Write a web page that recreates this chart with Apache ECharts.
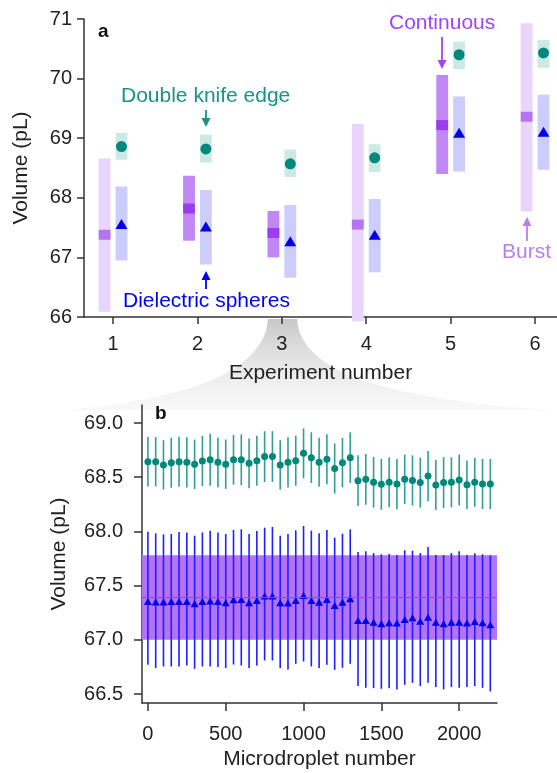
<!DOCTYPE html>
<html>
<head>
<meta charset="utf-8">
<style>
  html, body { margin: 0; padding: 0; background: #fff; }
  #main { width: 557px; height: 773px; }
</style>
<script src="https://cdn.jsdelivr.net/npm/echarts@6/dist/echarts.min.js"></script>
</head>
<body>
<div id="main"></div>
<script>
// ---- panel a: per experiment ----
var experiments = [1, 2, 3, 4, 5, 6];
var dropMode = ['burst', 'continuous', 'continuous', 'burst', 'continuous', 'burst'];
var dropLo  = [66.09, 67.28, 67.00, 65.93, 68.40, 67.77];
var dropHi  = [68.66, 68.37, 67.78, 69.24, 70.06, 70.93];
var dropMed = [67.38, 67.82, 67.41, 67.55, 69.22, 69.36];
var knifeLo   = [68.64, 68.59, 68.35, 68.43, 70.16, 70.18];
var knifeHi   = [69.09, 69.06, 68.81, 68.90, 70.62, 70.65];
var knifeMean = [68.86, 68.82, 68.57, 68.67, 70.40, 70.43];
var sphereLo   = [66.95, 66.88, 66.66, 66.75, 68.44, 68.47];
var sphereHi   = [68.19, 68.13, 67.88, 67.98, 69.70, 69.73];
var sphereMean = [67.56, 67.52, 67.27, 67.38, 69.09, 69.11];

// ---- panel b: experiment 3, every 50th microdroplet ----
var dropletNo = [];
for (var n = 0; n <= 2200; n += 50) dropletNo.push(n);
var knifeB = [68.643, 68.643, 68.613, 68.634, 68.643, 68.637, 68.619, 68.650, 68.660, 68.637,
              68.620, 68.660, 68.661, 68.628, 68.652, 68.690, 68.690, 68.613, 68.637, 68.652,
              68.720, 68.680, 68.637, 68.665, 68.580, 68.634, 68.680, 68.468, 68.480, 68.453,
              68.434, 68.453, 68.437, 68.480, 68.470, 68.450, 68.510, 68.428, 68.450, 68.453,
              68.474, 68.430, 68.453, 68.437, 68.437];
var knifeSd = [0.228, 0.228, 0.228, 0.231, 0.231, 0.231, 0.228, 0.231, 0.240, 0.229,
               0.228, 0.229, 0.234, 0.229, 0.231, 0.234, 0.234, 0.228, 0.231, 0.231,
               0.231, 0.234, 0.226, 0.231, 0.231, 0.228, 0.234, 0.234, 0.234, 0.234,
               0.235, 0.231, 0.232, 0.228, 0.231, 0.231, 0.231, 0.231, 0.235, 0.231,
               0.235, 0.224, 0.226, 0.231, 0.231];
var sphereB = [67.353, 67.348, 67.348, 67.353, 67.353, 67.353, 67.332, 67.353, 67.357, 67.353,
               67.341, 67.369, 67.372, 67.341, 67.363, 67.403, 67.403, 67.341, 67.339, 67.363,
               67.409, 67.363, 67.347, 67.372, 67.317, 67.347, 67.378, 67.178, 67.178, 67.163,
               67.148, 67.157, 67.154, 67.187, 67.203, 67.172, 67.209, 67.163, 67.148, 67.163,
               67.163, 67.154, 67.169, 67.157, 67.138];
var sphereBHi = [67.997, 67.982, 67.973, 67.976, 67.994, 67.990, 67.960, 67.990, 68.007, 67.990,
                 67.976, 68.013, 68.019, 67.976, 68.004, 68.034, 68.041, 67.960, 67.976, 68.010,
                 68.050, 68.007, 67.982, 68.013, 67.942, 67.979, 68.019, 67.810, 67.816, 67.801,
                 67.789, 67.792, 67.782, 67.826, 67.822, 67.801, 67.856, 67.782, 67.782, 67.801,
                 67.816, 67.782, 67.798, 67.789, 67.779];
var sphereBLo = [66.769, 66.739, 66.754, 66.754, 66.754, 66.763, 66.732, 66.754, 66.754, 66.748,
                 66.739, 66.772, 66.763, 66.739, 66.763, 66.809, 66.809, 66.739, 66.726, 66.779,
                 66.800, 66.754, 66.739, 66.769, 66.723, 66.742, 66.779, 66.573, 66.557, 66.554,
                 66.548, 66.554, 66.542, 66.585, 66.603, 66.573, 66.603, 66.564, 66.542, 66.564,
                 66.557, 66.564, 66.573, 66.557, 66.523];
var contBand = [67.00, 67.78];
var contMedian = 67.39;

var FONT = 'Liberation Sans, Arial, sans-serif';
var AXIS_COLOR = '#333';

var chart = echarts.init(document.getElementById('main'));

function axisStyle(margin, tickLen) {
    return {
        axisLine: { show: true, onZero: false, lineStyle: { color: AXIS_COLOR, width: 1.5 } },
        axisTick: { show: true, length: tickLen, lineStyle: { color: AXIS_COLOR, width: 1.5 } },
        axisLabel: { color: '#222', fontSize: 20, fontFamily: FONT, margin: margin },
        splitLine: { show: false },
        nameTextStyle: { color: '#222', fontSize: 21, fontFamily: FONT }
    };
}

// drop bar + median square, panel a
function dropItem(params, api) {
    var x = api.value(0) - 0.1;
    var lo = api.coord([x, api.value(1)]);
    var hi = api.coord([x, api.value(2)]);
    var med = api.coord([x, api.value(3)]);
    var w = api.size([0.14, 0])[0];
    var cont = dropMode[params.dataIndex] === 'continuous';
    return {
        type: 'group',
        children: [
            { type: 'rect', shape: { x: lo[0] - w / 2, y: hi[1], width: w, height: lo[1] - hi[1] },
              style: { fill: cont ? '#c088f4' : '#e8d5fb' } },
            { type: 'rect', shape: { x: lo[0] - w / 2, y: med[1] - 5, width: w, height: 10 },
              style: { fill: cont ? '#9b3cef' : '#b574f3' } }
        ]
    };
}

function bandItem(color) {
    return function (params, api) {
        var x = api.value(0) + 0.1;
        var lo = api.coord([x, api.value(1)]);
        var hi = api.coord([x, api.value(2)]);
        var w = api.size([0.14, 0])[0];
        return { type: 'rect', shape: { x: lo[0] - w / 2, y: hi[1], width: w, height: lo[1] - hi[1] },
                 style: { fill: color } };
    };
}

function errItem(color) {
    return function (params, api) {
        var lo = api.coord([api.value(0), api.value(1)]);
        var hi = api.coord([api.value(0), api.value(2)]);
        return { type: 'line', shape: { x1: lo[0], y1: lo[1], x2: hi[0], y2: hi[1] },
                 style: { stroke: color, lineWidth: 1.6 } };
    };
}

// wedge from panel a (experiment 3) down to panel b
function bez(p0, p1, p2, p3, t) {
    var u = 1 - t;
    return [u*u*u*p0[0] + 3*u*u*t*p1[0] + 3*u*t*t*p2[0] + t*t*t*p3[0],
            u*u*u*p0[1] + 3*u*u*t*p1[1] + 3*u*t*t*p2[1] + t*t*t*p3[1]];
}
var wedge = [];
for (var i = 0; i <= 20; i++) wedge.push(bez([297, 319], [300, 370], [380, 400], [557, 410], i / 20));
for (var j = 20; j >= 0; j--) wedge.push(bez([268, 319], [265, 370], [190, 400], [64, 410], j / 20));

function arrow(x, y1, y2, color) {
    // y2 is the tip
    var dir = y2 > y1 ? 1 : -1;
    return [
        { type: 'line', shape: { x1: x, y1: y1, x2: x, y2: y2 - dir * 6 }, style: { stroke: color, lineWidth: 1.8 }, z: 20 },
        { type: 'polygon', shape: { points: [[x - 4.5, y2 - dir * 9], [x + 4.5, y2 - dir * 9], [x, y2]] }, style: { fill: color }, z: 20 }
    ];
}

function label(text, x, y, color, size, bold) {
    return { type: 'text', x: x, y: y, z: 20,
             style: { text: text, fill: color, fontSize: size, fontFamily: FONT, fontWeight: bold ? 'bold' : 'normal',
                      textVerticalAlign: 'middle' } };
}

var graphics = [
    { type: 'polygon', z: -1, shape: { points: wedge },
      style: { fill: new echarts.graphic.LinearGradient(0, 0, 0, 1, [
          { offset: 0, color: 'rgba(190,190,190,0.85)' },
          { offset: 1, color: 'rgba(238,238,238,0.35)' }]) } },
    label('a', 98, 32, '#111', 19, true),
    label('b', 155, 414, '#111', 19, true),
    label('Double knife edge', 121, 96, '#169488', 21),
    label('Dielectric spheres', 123, 301, '#0000ff', 21),
    label('Continuous', 389, 23, '#a443f0', 21),
    label('Burst', 502, 252, '#b97ef5', 21)
].concat(arrow(206, 110, 127, '#169488'))
 .concat(arrow(206, 289, 271, '#0000ff'))
 .concat(arrow(442, 37, 69, '#a443f0'))
 .concat(arrow(527, 241, 217, '#b97ef5'));

var option = {
    animation: false,
    backgroundColor: '#fff',
    graphic: graphics,
    grid: [
        { left: 84, top: 19, width: 473, height: 298 },
        { left: 142, top: 405, width: 355, height: 298 }
    ],
    xAxis: [
        Object.assign(axisStyle(17, 7), {
            gridIndex: 0, type: 'value', min: 0.656, max: 6.26,
            name: 'Experiment number', nameLocation: 'middle', nameGap: 46
        }),
        Object.assign(axisStyle(21, 8), {
            gridIndex: 1, type: 'value', min: -38, max: 2243,
            name: 'Microdroplet number', nameLocation: 'middle', nameGap: 46
        })
    ],
    yAxis: [
        Object.assign(axisStyle(12, 7), {
            gridIndex: 0, type: 'value', min: 66, max: 71, interval: 1,
            name: 'Volume (pL)', nameLocation: 'middle', nameGap: 52
        }),
        Object.assign(axisStyle(19, 8), {
            gridIndex: 1, type: 'value', min: 66.417, max: 69.166,
            name: 'Volume (pL)', nameLocation: 'middle', nameGap: 72
        })
    ],
    series: []
};

option.xAxis[0].axisTick.customValues = experiments;
option.xAxis[0].axisLabel.customValues = experiments;
option.xAxis[1].axisTick.customValues = [0, 500, 1000, 1500, 2000];
option.xAxis[1].axisLabel.customValues = [0, 500, 1000, 1500, 2000];
option.xAxis[1].axisLabel.formatter = function (v) { return String(v); };
option.yAxis[1].axisTick.customValues = [66.5, 67, 67.5, 68, 68.5, 69];
option.yAxis[1].axisLabel.customValues = [66.5, 67, 67.5, 68, 68.5, 69];
option.yAxis[1].axisLabel.formatter = function (v) { return v.toFixed(1); };

// panel a series
option.series.push({
    type: 'custom', xAxisIndex: 0, yAxisIndex: 0, clip: false, z: 2,
    renderItem: dropItem,
    data: experiments.map(function (e, k) { return [e, dropLo[k], dropHi[k], dropMed[k]]; })
});
option.series.push({
    type: 'custom', xAxisIndex: 0, yAxisIndex: 0, z: 2,
    renderItem: bandItem('#cde9e6'),
    data: experiments.map(function (e, k) { return [e, knifeLo[k], knifeHi[k]]; })
});
option.series.push({
    type: 'custom', xAxisIndex: 0, yAxisIndex: 0, z: 2,
    renderItem: bandItem('#ccccfd'),
    data: experiments.map(function (e, k) { return [e, sphereLo[k], sphereHi[k]]; })
});
option.series.push({
    type: 'scatter', xAxisIndex: 0, yAxisIndex: 0, z: 4,
    symbol: 'circle', symbolSize: 11, itemStyle: { color: '#00897b', opacity: 1 },
    data: experiments.map(function (e, k) { return [e + 0.1, knifeMean[k]]; })
});
option.series.push({
    type: 'scatter', xAxisIndex: 0, yAxisIndex: 0, z: 4,
    symbol: 'triangle', symbolSize: [12, 10], itemStyle: { color: '#0000e6', opacity: 1 },
    data: experiments.map(function (e, k) { return [e + 0.1, sphereMean[k]]; })
});

// panel b series
option.series.push({
    type: 'line', xAxisIndex: 1, yAxisIndex: 1, z: 1, data: [], silent: true,
    markArea: {
        silent: true,
        itemStyle: { color: '#b472f5', opacity: 1 },
        data: [[{ yAxis: contBand[0] }, { yAxis: contBand[1] }]]
    },
    markLine: {
        silent: true, symbol: 'none', label: { show: false },
        lineStyle: { color: '#9a40e6', width: 1, type: 'solid' },
        data: [{ yAxis: contMedian }]
    }
});
option.series.push({
    type: 'custom', xAxisIndex: 1, yAxisIndex: 1, z: 3,
    renderItem: errItem('#2f9f95'),
    data: dropletNo.map(function (d, k) { return [d, knifeB[k] - knifeSd[k], knifeB[k] + knifeSd[k]]; })
});
option.series.push({
    type: 'custom', xAxisIndex: 1, yAxisIndex: 1, z: 3,
    renderItem: errItem('#1f1fff'),
    data: dropletNo.map(function (d, k) { return [d, sphereBLo[k], sphereBHi[k]]; })
});
option.series.push({
    type: 'scatter', xAxisIndex: 1, yAxisIndex: 1, z: 4,
    symbol: 'circle', symbolSize: 7, itemStyle: { color: '#00897b', opacity: 1 },
    data: dropletNo.map(function (d, k) { return [d, knifeB[k]]; })
});
option.series.push({
    type: 'scatter', xAxisIndex: 1, yAxisIndex: 1, z: 4,
    symbol: 'triangle', symbolSize: [8, 7], itemStyle: { color: '#0000ee', opacity: 1 },
    data: dropletNo.map(function (d, k) { return [d, sphereB[k]]; })
});

chart.setOption(option);
</script>
</body>
</html>
